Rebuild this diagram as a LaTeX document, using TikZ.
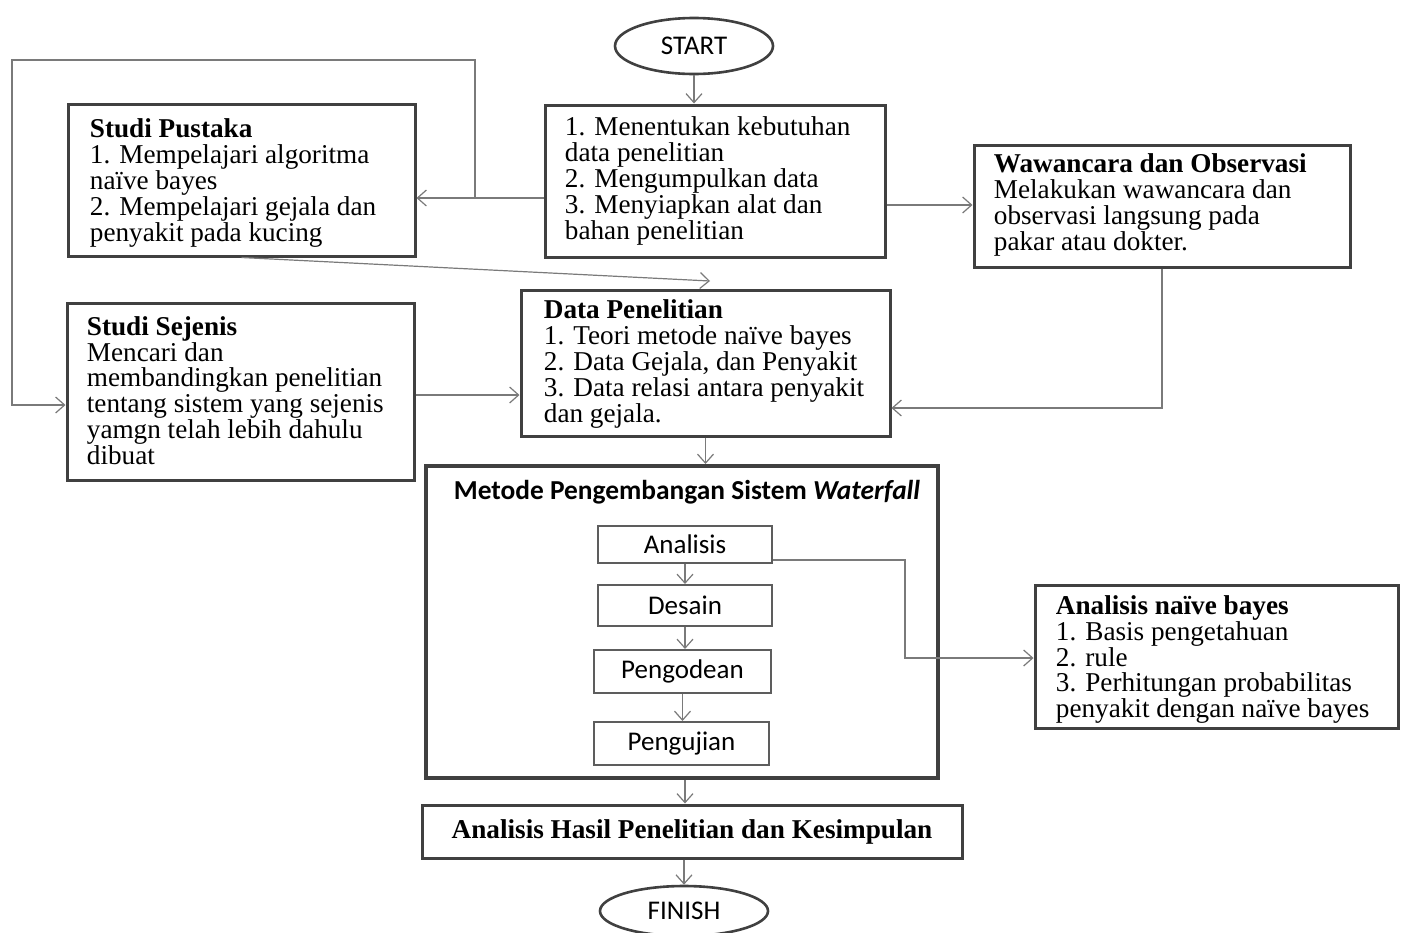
\documentclass[tikz,border=0pt]{standalone}
\usepackage{fontspec}
\setmainfont{Liberation Serif}
\newfontfamily\calib{Carlito}
\usetikzlibrary{shapes.geometric,arrows.meta}
\definecolor{bordc}{HTML}{404040}
\definecolor{linec}{HTML}{7A7A7A}
\tikzset{
  x=0.5pt, y=-0.5pt,
  bx/.style={draw=bordc, line width=1.5pt, rectangle, inner sep=0pt},
  ibx/.style={draw=bordc!85, line width=1pt, rectangle, inner sep=0pt, font=\calib\fontsize{13.5}{14}\selectfont},
  ell/.style={draw=bordc, line width=1.3pt, ellipse, inner sep=0pt, font=\calib\fontsize{13.5}{14}\selectfont},
  txt/.style={anchor=west, align=left, inner sep=0pt, font=\fontsize{13.6}{12.9}\selectfont},
  arr/.style={draw=linec, line width=0.6pt, -{Straight Barb[length=4.5pt,width=8pt]}},
  ln/.style={draw=linec, line width=0.6pt}
}
\begin{document}
\begin{tikzpicture}
\useasboundingbox[fill=white] (0,0) rectangle (1406,932);
% helper coordinates
\coordinate (y198) at (0,198);
\coordinate (y205) at (0,205);
\coordinate (y395) at (0,395);
\coordinate (y408) at (0,408);
\coordinate (y560) at (0,560);
\coordinate (y658) at (0,658);
% nodes
\node[ell, minimum width=79pt, minimum height=28pt] (start) at (694,46) {START};
\node[bx, minimum width=170pt, minimum height=76pt] (b1) at (715,181) {};
\node[txt] at ([xshift=10.5pt,yshift=0pt]b1.west) {1. Menentukan kebutuhan\\data penelitian\\2. Mengumpulkan data\\3. Menyiapkan alat dan\\bahan penelitian};
\node[bx, minimum width=173.5pt, minimum height=76pt] (sp) at (241.5,180) {};
\node[txt] at ([xshift=11.5pt,yshift=-1.5pt]sp.west) {\textbf{Studi Pustaka}\\1. Mempelajari algoritma\\naïve bayes\\2. Mempelajari gejala dan\\penyakit pada kucing};
\node[bx, minimum width=188pt, minimum height=61pt] (ww) at (1162,206) {};
\node[txt] at ([xshift=10.5pt,yshift=0.5pt]ww.west) {\textbf{Wawancara dan Observasi}\\Melakukan wawancara dan\\observasi langsung pada\\pakar atau dokter.};
\node[bx, minimum width=173.5pt, minimum height=88.5pt] (ss) at (240.5,391.5) {};
\node[txt] at ([xshift=10.5pt,yshift=0.5pt]ss.west) {\textbf{Studi Sejenis}\\Mencari dan\\membandingkan penelitian\\tentang sistem yang sejenis\\yamgn telah lebih dahulu\\dibuat};
\node[bx, minimum width=184.5pt, minimum height=73pt] (dp) at (705.5,363) {};
\node[txt] at ([xshift=12pt,yshift=-0.5pt]dp.west) {\textbf{Data Penelitian}\\1. Teori metode naïve bayes\\2. Data Gejala, dan Penyakit\\3. Data relasi antara penyakit\\dan gejala.};
\node[bx, line width=2pt, minimum width=256pt, minimum height=156pt] (mt) at (682,622) {};
\node[inner sep=0pt, font=\calib\bfseries\fontsize{13.7}{14}\selectfont] (mtt) at (687,492) {Metode Pengembangan Sistem \textit{Waterfall}};
\node[ibx, minimum width=87pt, minimum height=18.5pt] (an) at (685,544.5) {Analisis};
\node[ibx, minimum width=87pt, minimum height=20.5pt] (de) at (685,605.5) {Desain};
\node[ibx, minimum width=88.5pt, minimum height=21.5pt] (pg) at (682.5,671.5) {Pengodean};
\node[ibx, minimum width=87.5pt, minimum height=21.5pt] (pj) at (681.5,743.5) {Pengujian};
\node[bx, minimum width=181.5pt, minimum height=71.5pt] (nb) at (1216.5,656.5) {};
\node[txt] at ([xshift=11pt,yshift=-1.5pt]nb.west) {\textbf{Analisis naïve bayes}\\1. Basis pengetahuan\\2. rule\\3. Perhitungan probabilitas\\penyakit dengan naïve bayes};
\node[bx, minimum width=270pt, minimum height=26.5pt, font=\bfseries\fontsize{13.6}{14}\selectfont] (ah) at (692,831.5) {Analisis Hasil Penelitian dan Kesimpulan};
\node[ell, minimum width=84pt, minimum height=25pt] (fin) at (684,911) {FINISH};
% connectors
\draw[arr] (start.south) -- (start.south |- b1.north);
\coordinate (lp) at (475,198);
\draw[arr] (b1.west |- y198) -- (sp.east |- y198);
\draw[arr] (lp) -- (475,60) -- (12,60) -- (12,405) -- (ss.west |- 0,405);
\draw[arr] (b1.east |- y205) -- (ww.west |- y205);
\coordinate (dpin) at (710,281);
\draw[arr] (sp.south) -- (dpin);
\draw[arr] (ss.east |- y395) -- (dp.west |- y395);
\draw[arr] (ww.south) |- (dp.east |- y408);
\draw[arr] (dp.south) -- (dp.south |- mt.north);
\draw[arr] (an.south) -- (an.south |- de.north);
\draw[arr] (de.south) -- (de.south |- pg.north);
\draw[arr] (pg.south) -- (pg.south |- pj.north);
\draw[arr] (an.east |- y560) -- (905,560) -- (905,658) -- (nb.west |- y658);
\draw[arr] (mt.south -| an.south) -- (an.south |- ah.north);
\draw[arr] (ah.south -| fin.north) -- (fin.north);
\end{tikzpicture}
\end{document}
